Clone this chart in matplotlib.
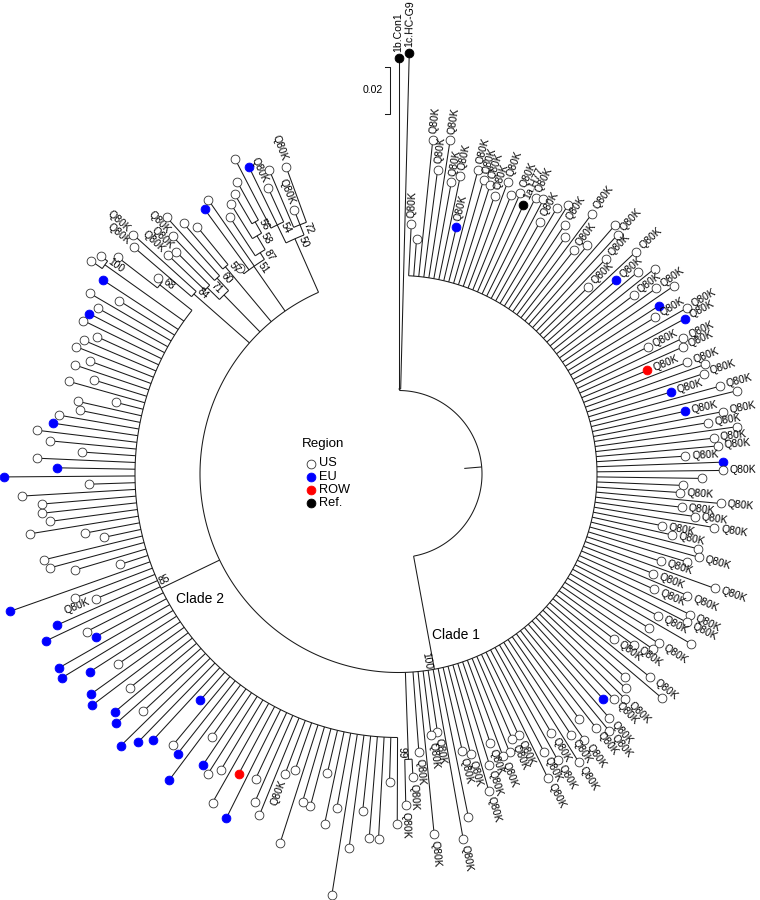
import re
import numpy as np
import matplotlib
matplotlib.use("Agg")
import matplotlib.pyplot as plt
from matplotlib.collections import LineCollection

plt.rcParams['font.family'] = ['Liberation Sans', 'DejaVu Sans']

# ---------------- data ----------------
region_codes = ['U', 'E', 'R', 'K']
region_labels = ['US', 'EU', 'ROW', 'Ref.']
region_colors = ['#ffffff', '#0000ff', '#ff0000', '#000000']
mutation_label = 'Q80K'
legend_title = 'Region'
scale_bar_length = 47          # branch-length units represented by the bar
scale_bar_text = '0.02'

# tip token: region letter (+ 'Q' if Q80K); reference strains by name
outgroup = "(1b.Con1:331,1c.HC-G9:336)"
clade1 = ("UQ:52,U:37,UQ:137,UQ:108,UQ:139,UQ:98,UQ:106,EQ:55,UQ:116,UQ:108,UQ:105,UQ:96,"
          "UQ:113,U:102,UQ:108,1a.H77:98,UQ:110,U:112,UQ:91,U:111,U:120,UQ:101,U:91,UQ:126,"
          "UQ:86,U:98,U:131,UQ:126,UQ:100,UQ:68,UQ:127,EQ:93,U:115,U:130,UQ:97,UQ:119,U:135,"
          "E:112,UQ:102,UQ:134,EQ:127,UQ:81,UQ:117,UQ:113,RQ:71,UQ:111,U:127,UQ:123,EQ:86,"
          "UQ:135,U:150,EQ:95,UQ:132,UQ:115,U:143,UQ:119,UQ:122,UQ:89,E:126,UQ:126,U:105,"
          "U:86,UQ:84,UQ:125,UQ:87,UQ:101,UQ:122,UQ:70,UQ:82,U:110,UQ:113,U:103,UQ:78,UQ:138,"
          "UQ:75,UQ:115,UQ:82,UQ:125,UQ:126,UQ:97,U:140,U:96,UQ:112,U:111,UQ:93,UQ:73,"
          "UQ:125,U:147,U:105,U:114,UQ:121,UQ:113,E:106,UQ:124,UQ:134,UQ:123,U:106,UQ:126,"
          "UQ:114,UQ:141,UQ:102,UQ:129,UQ:115,UQ:140,UQ:89,UQ:90,U:101,UQ:102,UQ:86,UQ:106,"
          "UQ:131,UQ:91,UQ:86,U:152,UQ:172,UQ:62,UQ:65,UQ:163,UQ:80,(UQ:18,UQ:46)99:87")
clade2_main = ("U:87,U:45,U:102,U:102,U:75,U:114,U:163,U:76,U:94,U:44,U:80,U:78,U:124,U:50,"
               "UQ:57,U:105,U:95,U:73,E:121,R:76,U:114,U:82,U:92,E:87,U:59,E:119,E:93,U:89,"
               "E:37,E:98,E:110,E:125,U:85,E:113,E:107,U:80,E:120,E:115,U:75,E:103,E:130,"
               "E:128,E:80,U:86,E:126,E:110,UQ:64,U:83,E:149,U:29,U:74,U:97,U:101,U:38,U:56,"
               "U:110,U:88,U:95,U:94,U:114,U:46,E:131,E:78,U:98,U:54,U:87,U:101,E:86,U:81,"
               "U:61,U:65,U:28,U:79,U:55,U:78,U:65,U:83,U:78,U:68,U:87,E:85,U:80,U:94,U:65,"
               "E:90,(U:14,U:8)100:97,(U:50,U:6)68:41")
clade2_upper = ("(UQ:76.5,UQ:84.5)84:74,"
                "((UQ:51,UQ:47)71:17,(UQ:61,U:79)60:17):51.5,"
                "(U:60,U:49)57:71.5,"
                "(U:7,E:75,U:81,(U:46,(U:41,(U:34,U:44)56:13)58:16)87:8)51:54.5,"
                "((U:78,E:64,UQ:37)54:20,(U:62,UQ:16,UQ:59)72:11)50:58.5")
root_length = 17.5
outgroup_length = 1.5
ingroup_length = 115
clade2_length = 65
ingroup_support = "100"
clade2_support = "85"
clade_names = ['Clade 1', 'Clade 2']

newick = (f"({outgroup}:{outgroup_length},({clade1},({clade2_main}){clade2_support}:{clade2_length},"
          f"{clade2_upper}){ingroup_support}:{ingroup_length}):{root_length};")

# ---------------- layout parameters ----------------
CX, CY = 398.5, 474.0
BASE_R = 66.0
FIRST_TIP_ANGLE = 90.0
LAST_TIP_ANGLE = 110.1 - 360.0
LINE_COLOR = '#1a1a1a'
LW = 0.75
FS_TIP = 7.6
FS_NODE = 7.4


def parse_newick(s):
    s = s.strip().rstrip(';')
    pos = 0

    def node():
        nonlocal pos
        n = {'children': [], 'name': '', 'length': 0.0}
        if s[pos] == '(':
            pos += 1
            while True:
                n['children'].append(node())
                ch = s[pos]
                pos += 1
                if ch == ')':
                    break
        m = re.match(r"[^:,();]*", s[pos:])
        n['name'] = m.group(0).strip()
        pos += m.end()
        if pos < len(s) and s[pos] == ':':
            pos += 1
            m = re.match(r"[-+0-9.eE]+", s[pos:])
            n['length'] = float(m.group(0))
            pos += m.end()
        return n
    return node()


root = parse_newick(newick)

tips = []
nodes = []


def collect(n):
    nodes.append(n)
    if n['children']:
        for c in n['children']:
            collect(c)
    else:
        tips.append(n)


collect(root)
step = (FIRST_TIP_ANGLE - LAST_TIP_ANGLE) / (len(tips) - 1)
for i, t in enumerate(tips):
    t['angle'] = FIRST_TIP_ANGLE - i * step


def set_angle(n):
    if n['children']:
        for c in n['children']:
            set_angle(c)
        n['angle'] = 0.5 * (n['children'][0]['angle'] + n['children'][-1]['angle'])


set_angle(root)


def set_radius(n, r0):
    n['r0'] = r0
    n['r'] = r0 + n['length']
    for c in n['children']:
        set_radius(c, n['r'])


set_radius(root, BASE_R)


def pol(r, a):
    t = np.deg2rad(a)
    return CX + r * np.cos(t), CY - r * np.sin(t)


fig = plt.figure(figsize=(7.6, 9), dpi=100)
ax = fig.add_axes([0, 0, 1, 1])
ax.set_xlim(0, 760)
ax.set_ylim(900, 0)
ax.axis('off')

segs = []
for n in nodes:
    segs.append([pol(n['r0'], n['angle']), pol(n['r'], n['angle'])])
    if n['children']:
        a0 = n['children'][0]['angle']
        a1 = n['children'][-1]['angle']
        k = max(2, int(abs(a1 - a0) * 3))
        aa = np.linspace(a0, a1, k)
        xs, ys = pol(n['r'], aa)
        segs.append(list(zip(xs, ys)))
ax.add_collection(LineCollection(segs, colors=LINE_COLOR, linewidths=LW, capstyle='butt'))


def radial_label(r, a, start=True, perp=0.0):
    """text along the radius; start=True: text begins at r going outward."""
    right = np.cos(np.deg2rad(a)) >= 0
    x, y = pol(r, a)
    t = np.deg2rad(a)
    x += perp * np.sin(t)
    y += perp * np.cos(t)
    if right:
        rot = a
        ha = 'left' if start else 'right'
    else:
        rot = a - 180
        ha = 'right' if start else 'left'
    return rot, ha, x, y


# tips
for t in tips:
    name = t['name']
    if name[0] in region_codes and len(name) <= 2:
        ridx = region_codes.index(name[0])
        q = name.endswith('Q')
        label = mutation_label if q else None
    else:
        ridx = 3
        label = name
    x, y = pol(t['r'], t['angle'])
    ec = '#333333' if ridx == 0 else region_colors[ridx]
    ax.scatter([x], [y], s=40, facecolor=region_colors[ridx], edgecolor=ec,
               linewidths=0.6, zorder=3)
    if label:
        rot, ha, lx, ly = radial_label(t['r'] + 6.5, t['angle'])
        ax.text(lx, ly, label, rotation=rot, rotation_mode='anchor', ha=ha, va='center',
                fontsize=FS_TIP, color='black')

# node support labels
for n in nodes:
    if n['children'] and n['name']:
        a = n['angle']
        right = np.cos(np.deg2rad(a)) >= 0
        rot, ha, lx, ly = radial_label(n['r'] - 1.0, a, start=False, perp=1.5)
        va = 'top' if right else 'bottom'
        ax.text(lx, ly, n['name'], rotation=rot, rotation_mode='anchor', ha=ha, va=va,
                fontsize=FS_NODE, color='black')

# clade names
c1x, c1y = pol(171, -70.3)
ax.text(c1x, c1y, clade_names[0], fontsize=10, ha='center', va='center')
c2x, c2y = pol(234.6, 212.2)
ax.text(c2x, c2y, clade_names[1], fontsize=10, ha='center', va='center')

# scale bar
sbx, sby = 390.0, 66.7
ax.plot([sbx - 5, sbx, sbx, sbx - 5], [sby, sby, sby + scale_bar_length, sby + scale_bar_length],
        color=LINE_COLOR, lw=LW)
ax.text(sbx - 7, sby + scale_bar_length / 2, scale_bar_text, fontsize=7.6, ha='right', va='center')

# legend
ax.text(323, 444, legend_title, fontsize=9.6, ha='center', va='center')
for i, (lab, col) in enumerate(zip(region_labels, region_colors)):
    yy = 463.5 + i * 13.1
    ec = '#333333' if i == 0 else col
    ax.scatter([311], [yy], s=40, facecolor=col, edgecolor=ec, linewidths=0.6, zorder=3)
    ax.text(319.5, yy, lab, fontsize=9.2, ha='left', va='center')

fig.savefig('out.png', dpi=100)
